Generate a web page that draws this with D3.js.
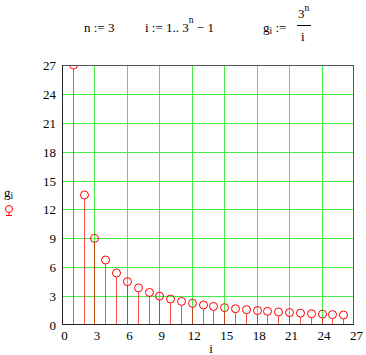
<!DOCTYPE html>
<html><head><meta charset="utf-8">
<script src="https://cdn.jsdelivr.net/npm/d3@7"></script>
<style>
html,body{margin:0;padding:0;background:#fff;}
svg{display:block;}
</style></head>
<body>
<svg id="chart" width="366" height="355"></svg>
<script>
// Data
const iValues = [1,2,3,4,5,6,7,8,9,10,11,12,13,14,15,16,17,18,19,20,21,22,23,24,25,26];
const gValues = [27,13.5,9,6.75,5.4,4.5,3.86,3.38,3,2.7,2.45,2.25,2.08,1.93,1.8,1.69,1.59,1.5,1.42,1.35,1.29,1.23,1.17,1.13,1.08,1.04];
const xTicks = [0,3,6,9,12,15,18,21,24,27];
const yTicks = [0,3,6,9,12,15,18,21,24,27];

const FONT = "'Times New Roman', 'Liberation Serif', 'DejaVu Serif', serif";
const svg = d3.select("#chart");
const L = 62, R = 354, T = 65, B = 325;
const x = d3.scaleLinear().domain([0,27]).range([L,R]);
const y = d3.scaleLinear().domain([0,27]).range([B,T]);
const r = 4;

function txt(sel, size){ return sel.append("text").style("font-family",FONT).attr("font-size",size).attr("fill","#000"); }

// Title: n := 3   i := 1.. 3^n − 1   g_i := 3^n / i
const title = svg.append("g");
txt(title,13).attr("x",84).attr("y",32).text("n := 3");
const t2 = txt(title,13).attr("x",145).attr("y",32);
t2.append("tspan").text("i := 1.. 3");
t2.append("tspan").attr("dy",-9).attr("font-size",9.5).text("n");
t2.append("tspan").attr("dy",9).text(" \u2212 1");
const t3 = txt(title,13).attr("x",263).attr("y",32);
t3.append("tspan").text("g");
t3.append("tspan").attr("dy",2).attr("font-size",9.5).text("i");
t3.append("tspan").attr("dy",-2).text(" :=");
const num = txt(title,13).attr("x",298).attr("y",18);
num.append("tspan").text("3");
num.append("tspan").attr("dy",-7).attr("font-size",9.5).text("n");
title.append("line").attr("x1",297).attr("x2",311).attr("y1",25.5).attr("y2",25.5)
  .attr("stroke","#000").attr("stroke-width",1);
txt(title,13).attr("x",301).attr("y",41).text("i");

// Grid
const grid = svg.append("g").attr("stroke","#44ee44").attr("stroke-width",1);
grid.selectAll("line.v").data(xTicks.slice(1,-1)).join("line")
  .attr("x1",d=>Math.round(x(d))+0.5).attr("x2",d=>Math.round(x(d))+0.5)
  .attr("y1",T).attr("y2",B);
grid.selectAll("line.h").data(yTicks.slice(1,-1)).join("line")
  .attr("y1",d=>Math.round(y(d))+0.5).attr("y2",d=>Math.round(y(d))+0.5)
  .attr("x1",L).attr("x2",R);

// Clip
svg.append("clipPath").attr("id","plot").append("rect")
  .attr("x",L).attr("y",T).attr("width",R-L).attr("height",B-T);

const data = iValues.map((d,k)=>({i:d,g:gValues[k]}));
const marks = svg.append("g").attr("clip-path","url(#plot)");
marks.selectAll("line.stem").data(data).join("line")
  .attr("x1",d=>Math.round(x(d.i))+0.5).attr("x2",d=>Math.round(x(d.i))+0.5)
  .attr("y1",y(0)).attr("y2",d=>y(d.g)+r)
  .attr("stroke","#ff0000").attr("stroke-opacity",0.7).attr("stroke-width",1);
marks.selectAll("circle").data(data).join("circle")
  .attr("cx",d=>Math.round(x(d.i))+0.5).attr("cy",d=>y(d.g)).attr("r",r)
  .attr("fill","none").attr("stroke","#ff0000").attr("stroke-width",1);

// Frame
svg.append("rect").attr("x",L+0.5).attr("y",T+0.5).attr("width",R-L-1).attr("height",B-T-1)
  .attr("fill","none").attr("stroke","#555").attr("stroke-width",1);
svg.append("line").attr("x1",L+0.5).attr("x2",L+0.5).attr("y1",T).attr("y2",B)
  .attr("stroke","#222");
svg.append("line").attr("x1",L).attr("x2",R).attr("y1",B-0.5).attr("y2",B-0.5)
  .attr("stroke","#222");

// Tick labels
const lab = svg.append("g");
lab.selectAll("text.x").data(xTicks).join("text")
  .style("font-family",FONT).attr("font-size",13)
  .attr("x",d=>x(d)+2.5).attr("y",340).attr("text-anchor","middle").text(d=>d);
lab.selectAll("text.y").data(yTicks).join("text")
  .style("font-family",FONT).attr("font-size",13)
  .attr("x",56).attr("y",d=>y(d)+5).attr("text-anchor","end").text(d=>d);

// Axis titles
const yl = txt(svg,13).attr("x",4).attr("y",197);
yl.append("tspan").text("g");
yl.append("tspan").attr("dy",2).attr("font-size",9.5).text("i");
const lg = svg.append("g").attr("stroke","#ff0000").attr("fill","none");
lg.append("circle").attr("cx",9).attr("cy",209).attr("r",3.5);
lg.append("line").attr("x1",9).attr("x2",9).attr("y1",212.5).attr("y2",216);
lg.append("line").attr("x1",6).attr("x2",12).attr("y1",215.5).attr("y2",215.5);
txt(svg,13).attr("x",211).attr("y",353).attr("text-anchor","middle").text("i");
</script>
</body></html>
